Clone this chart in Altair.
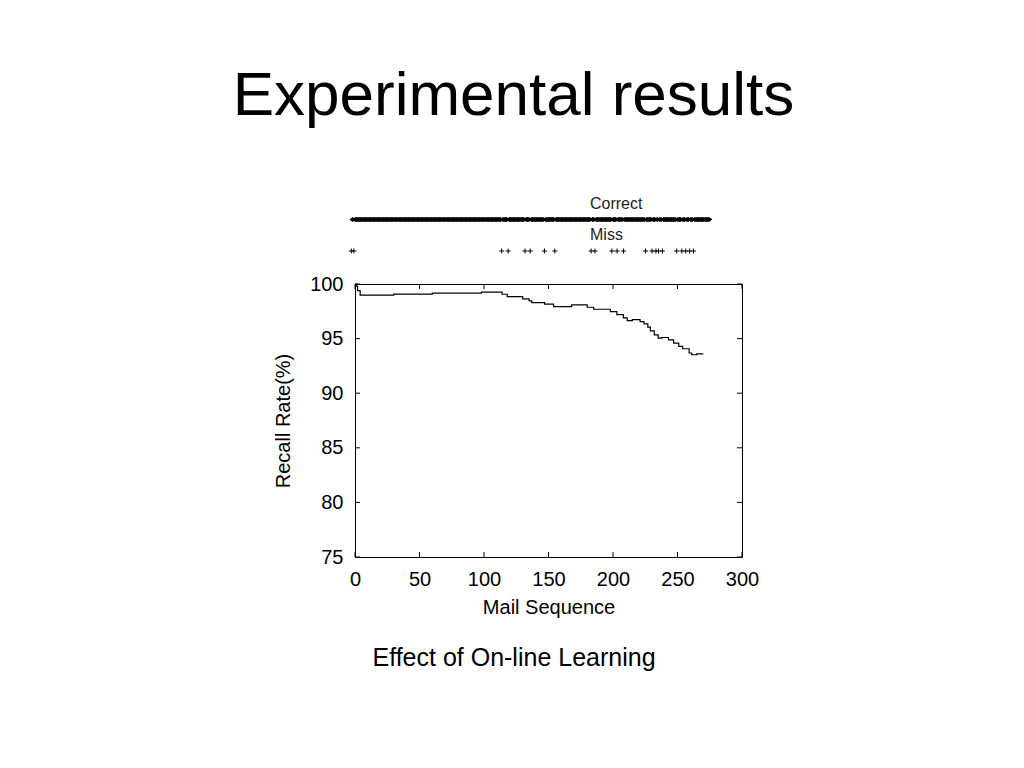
import altair as alt
import pandas as pd

# ---------------- data ----------------
heading = "Experimental results"
caption = "Effect of On-line Learning"
x_title = "Mail Sequence"
y_title = "Recall Rate(%)"

# recall-rate curve (step line)
recall_mail = [0, 1, 2, 4, 30, 60, 98, 114, 118, 130, 135, 137, 147, 154, 168,
               180, 185, 198, 203, 208, 211, 215, 221, 224, 227, 229, 232, 235,
               238, 243, 247, 251, 254, 259, 261, 265, 270]
recall_rate = [100.0, 99.8, 99.4, 98.98, 99.07, 99.16, 99.26, 99.06, 98.84, 98.63,
               98.45, 98.3, 98.15, 97.93, 98.08, 97.87, 97.69, 97.47, 97.2, 96.9,
               96.65, 96.74, 96.56, 96.35, 96.05, 95.7, 95.35, 95.04, 95.1, 94.89,
               94.59, 94.28, 94.07, 93.68, 93.52, 93.61, 93.61]

# top strip: mails that were missed; all other mails were correct
mail_count = 277
miss_mails = [0, 2, 116, 121, 134, 138, 149, 157, 185, 188, 201, 205, 210,
              227, 232, 235, 237, 240, 251, 255, 258, 261, 264]
strip_rows = ["Correct", "Miss"]

x_ticks = [0, 50, 100, 150, 200, 250, 300]
y_ticks = [75, 80, 85, 90, 95, 100]

# ---------------- tables ----------------
curve_df = pd.DataFrame({"mail": recall_mail, "rate": recall_rate})
correct_df = pd.DataFrame({"mail": [i for i in range(mail_count) if i not in miss_mails],
                           "row": "Correct"})
miss_df = pd.DataFrame({"mail": miss_mails, "row": "Miss"})
label_df = pd.DataFrame({"row": strip_rows})
xt_df = pd.DataFrame({"t": x_ticks})
yt_df = pd.DataFrame({"t": y_ticks})
head_df = pd.DataFrame({"txt": [heading]})
cap_df = pd.DataFrame({"txt": [caption]})

W, H = 387, 273
FONT = "Liberation Sans"


def xs():
    return alt.Scale(domain=[0, 300], nice=False, zero=False)


def ys():
    return alt.Scale(domain=[75, 100], nice=False, zero=False)


line = alt.Chart(curve_df).mark_line(
    interpolate="step-after", color="black", strokeWidth=1.2
).encode(
    x=alt.X("mail:Q", scale=xs(),
            axis=alt.Axis(values=x_ticks, title=x_title, labelPadding=12,
                          titlePadding=8, format="d", orient="bottom",
                          labelFlush=False)),
    y=alt.Y("rate:Q", scale=ys(),
            axis=alt.Axis(values=y_ticks, title=y_title, labelPadding=12,
                          titlePadding=16, format="d", orient="left",
                          labelFlush=False)),
)

tick_style = dict(color="black", strokeWidth=1)
tb = alt.Chart(xt_df).mark_rule(**tick_style).encode(
    x=alt.X("t:Q", scale=xs(), axis=None), y=alt.value(H), y2=alt.value(H - 5))
tt = alt.Chart(xt_df).mark_rule(**tick_style).encode(
    x=alt.X("t:Q", scale=xs(), axis=None), y=alt.value(0), y2=alt.value(5))
tl = alt.Chart(yt_df).mark_rule(**tick_style).encode(
    y=alt.Y("t:Q", scale=ys(), axis=None), x=alt.value(0), x2=alt.value(5))
tr = alt.Chart(yt_df).mark_rule(**tick_style).encode(
    y=alt.Y("t:Q", scale=ys(), axis=None), x=alt.value(W), x2=alt.value(W - 5))

head = alt.Chart(head_df).mark_text(
    font=FONT, fontSize=62, color="black", align="center", baseline="alphabetic"
).encode(x=alt.value(158.5), y=alt.value(-169), text="txt:N")
cap = alt.Chart(cap_df).mark_text(
    font=FONT, fontSize=25, color="black", align="center", baseline="alphabetic"
).encode(x=alt.value(159), y=alt.value(382), text="txt:N")


# strip with its own scales
def sxs():
    return alt.Scale(domain=[2.85, 301.4], nice=False, zero=False)


def sys_():
    return alt.Scale(type="point", domain=strip_rows, range=[-64.5, -33], padding=0)


correct = alt.Chart(correct_df).mark_point(
    shape="M-1,0L0,-0.8L1,0L0,0.8Z", filled=True, color="black", size=42, opacity=1
).encode(
    x=alt.X("mail:Q", scale=sxs(), axis=None),
    y=alt.Y("row:N", scale=sys_(), axis=None),
)
miss = alt.Chart(miss_df).mark_point(
    shape="M-1,0L1,0M0,-1L0,1", filled=False, color="black", size=25,
    strokeWidth=1, opacity=1
).encode(
    x=alt.X("mail:Q", scale=sxs(), axis=None),
    y=alt.Y("row:N", scale=sys_(), axis=None),
)
labels = alt.Chart(label_df).mark_text(
    font=FONT, fontSize=16, color="#222222", align="left", baseline="middle", dy=-16
).encode(
    x=alt.value(235),
    y=alt.Y("row:N", scale=sys_(), axis=None),
    text="row:N",
)

chart = alt.layer(
    line, tb, tt, tl, tr, correct, miss, labels, head, cap
).resolve_scale(
    x="independent", y="independent"
).resolve_axis(
    x="independent", y="independent"
).properties(
    width=W, height=H,
    autosize=alt.AutoSizeParams(type="none"),
    padding={"left": 347, "top": 276, "right": 260, "bottom": 200},
    background="white",
).configure_view(
    stroke="black", strokeWidth=1
).configure_axis(
    labelFont=FONT, titleFont=FONT, labelFontSize=20, titleFontSize=20,
    labelColor="black", titleColor="black", titleFontWeight="normal",
    grid=False, domain=False, ticks=False,
)

chart.save("out.html", embed_options={"renderer": "svg", "actions": False})
